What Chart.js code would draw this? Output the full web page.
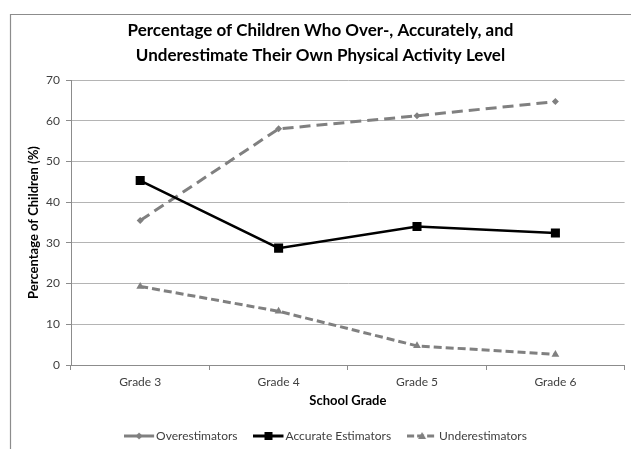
<!DOCTYPE html>
<html>
<head>
<meta charset="utf-8">
<script src="https://cdn.jsdelivr.net/npm/chart.js@4/dist/chart.umd.min.js"></script>
<style>
  html, body { margin: 0; padding: 0; background: #fff; }
  #wrap { width: 631px; height: 449px; position: relative; }
</style>
</head>
<body>
<div id="wrap"><canvas id="chart" width="631" height="449"></canvas></div>
<script>
// School grades on the x axis
const grades = ['Grade 3', 'Grade 4', 'Grade 5', 'Grade 6'];

// Percentage of children in each estimation group
const overestimators = [35.5, 58.0, 61.2, 64.7];
const accurateEstimators = [45.3, 28.7, 34.0, 32.4];
const underestimators = [19.3, 13.2, 4.7, 2.6];

const yTicks = [0, 10, 20, 30, 40, 50, 60, 70];

const GREY = '#808080';
const FONT = 'Lato, "Open Sans", "DejaVu Sans", sans-serif';

// Small legend swatch: a short line with the series marker in its middle
function swatch(color, dash, width, marker) {
  const c = document.createElement('canvas');
  c.width = 32; c.height = 12;
  const g = c.getContext('2d');
  g.strokeStyle = color;
  g.lineWidth = width;
  g.setLineDash(dash);
  g.beginPath(); g.moveTo(0, 6); g.lineTo(30, 6); g.stroke();
  g.setLineDash([]);
  g.fillStyle = color;
  g.beginPath();
  if (marker === 'rect') {
    g.rect(11, 2, 8, 8);
  } else if (marker === 'rectRot') {
    g.moveTo(15, 2.5); g.lineTo(18.5, 6); g.lineTo(15, 9.5); g.lineTo(11.5, 6); g.closePath();
  } else {
    g.moveTo(15, 2); g.lineTo(19, 9); g.lineTo(11, 9); g.closePath();
  }
  g.fill();
  return c;
}

const swatches = [
  swatch(GREY, [], 3, 'rectRot'),
  swatch('#000', [], 3, 'rect'),
  swatch(GREY, [7, 3], 3, 'triangle')
];

// Outer frame of the chart, and a small nudge of the legend row
const framePlugin = {
  id: 'frame',
  afterLayout(chart) {
    if (chart.legend) {
      chart.legend.left += 8;
      chart.legend.right += 8;
    }
  },
  beforeDraw(chart) {
    const ctx = chart.ctx;
    ctx.save();
    ctx.fillStyle = '#fff';
    ctx.fillRect(0, 0, chart.width, chart.height);
    ctx.strokeStyle = '#8c8c8c';
    ctx.lineWidth = 1.2;
    ctx.beginPath();
    ctx.moveTo(10.5, chart.height + 2);
    ctx.lineTo(10.5, 14.5);
    ctx.lineTo(chart.width + 2, 14.5);
    ctx.stroke();
    ctx.restore();
  }
};

new Chart(document.getElementById('chart'), {
  type: 'line',
  data: {
    labels: grades,
    datasets: [
      {
        label: 'Overestimators',
        data: overestimators,
        borderColor: GREY,
        backgroundColor: GREY,
        borderWidth: 3,
        borderDash: [11, 6],
        pointStyle: 'rectRot',
        pointRadius: 3.5,
        pointBorderWidth: 0,
        tension: 0,
        order: 2
      },
      {
        label: 'Accurate Estimators',
        data: accurateEstimators,
        borderColor: '#000',
        backgroundColor: '#000',
        borderWidth: 2.5,
        pointStyle: 'rect',
        pointRadius: 6.4,
        pointBorderWidth: 0,
        tension: 0,
        order: 1
      },
      {
        label: 'Underestimators',
        data: underestimators,
        borderColor: GREY,
        backgroundColor: GREY,
        borderWidth: 3,
        borderDash: [8, 4],
        pointStyle: 'triangle',
        pointRadius: 4.5,
        pointBorderWidth: 0,
        tension: 0,
        order: 3
      }
    ]
  },
  options: {
    responsive: false,
    animation: false,
    events: [],
    layout: { padding: { left: 10, right: 0, top: 0, bottom: -3 } },
    plugins: {
      title: {
        display: true,
        text: ['Percentage of Children Who Over-, Accurately, and',
               'Underestimate Their Own Physical Activity Level'],
        color: '#000',
        font: { family: FONT, size: 17, weight: 'bold', lineHeight: 25 / 17 },
        padding: { top: 18, bottom: 12 }
      },
      legend: {
        display: true,
        position: 'bottom',
        labels: {
          color: '#404040',
          font: { family: FONT, size: 12 },
          usePointStyle: true,
          pointStyleWidth: 20,
          padding: 22,
          generateLabels(chart) {
            return chart.data.datasets.map((ds, i) => ({
              text: ds.label,
              pointStyle: swatches[i],
              fillStyle: ds.borderColor,
              strokeStyle: ds.borderColor,
              lineWidth: 0,
              fontColor: '#404040',
              hidden: false,
              datasetIndex: i
            }));
          }
        }
      },
      tooltip: { enabled: false }
    },
    scales: {
      x: {
        type: 'category',
        offset: true,
        grid: {
          offset: true,
          drawOnChartArea: false,
          drawTicks: true,
          tickLength: 5,
          color: '#8c8c8c'
        },
        border: { color: '#8c8c8c', width: 1 },
        ticks: {
          color: '#404040',
          font: { family: FONT, size: 12 },
          padding: 5
        },
        title: {
          display: true,
          text: 'School Grade',
          color: '#000',
          font: { family: FONT, size: 13, weight: 'bold' },
          padding: { top: 0, bottom: -1 }
        },
        afterFit(scale) { scale.height = 43; }
      },
      y: {
        min: 0,
        max: 70,
        afterBuildTicks(scale) { scale.ticks = yTicks.map(v => ({ value: v })); },
        grid: {
          color: '#b4b4b4',
          lineWidth: 1,
          tickLength: 5,
          tickColor: '#8c8c8c'
        },
        border: { color: '#8c8c8c', width: 1 },
        ticks: {
          color: '#404040',
          font: { family: FONT, size: 12 },
          padding: 6
        },
        title: {
          display: true,
          text: 'Percentage of Children (%)',
          color: '#000',
          font: { family: FONT, size: 13, weight: 'bold' },
          padding: { top: 16, bottom: 2 }
        },
        afterFit(scale) { scale.width = 61; }
      }
    }
  },
  plugins: [framePlugin]
});
</script>
</body>
</html>
